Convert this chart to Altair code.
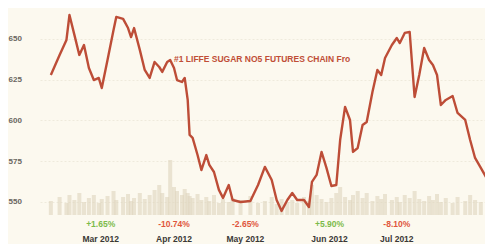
import altair as alt
import pandas as pd

# price series (day offset from start, price)
days = [0, 3.2, 5.7, 6.8, 8.6, 10.4, 12.1, 13.9, 15.7, 17.5, 18.6, 20.7, 22.9, 23.9, 26.4, 28.2, 29.3, 30.4,
        32.5, 34.3, 36.1, 37.9, 39.6, 40.7, 42.5, 43.6, 45, 46.1, 47.9, 48.9, 50, 50.7, 51.8, 53.6, 55, 56.8,
        57.9, 59.6, 61.4, 62.9, 65, 66.4, 69.3, 72.9, 75.7, 78.2, 80.7, 82.5, 84.3, 86.4, 88.2, 90, 92.5,
        94.3, 95.4, 97.1, 98.9, 100.7, 102.5, 104.3, 105.7, 107.5, 109.3, 110.4, 112.1, 113.9, 115.4, 117.5,
        119.3, 120.7, 122.1, 124.6, 126.4, 127.5, 129.3, 131.1, 132.9, 134.6, 136.4, 138.2, 139.6, 141.1,
        142.5, 144.3, 146.8, 148.6, 151.4, 153.2, 155, 157.1, 159.6]
prices = [627.9, 640.2, 649.4, 664.7, 652.5, 640.2, 646.3, 632.2, 624.8, 626.1, 619.9, 637.1, 655.5, 663.5,
          662.3, 656.7, 651.2, 656.7, 643.3, 631.0, 626.1, 635.9, 632.8, 629.8, 635.9, 637.1, 632.2, 624.8,
          623.6, 626.1, 612.6, 591.1, 589.3, 578.8, 569.6, 578.8, 572.7, 568.4, 557.4, 552.5, 560.4, 551.2,
          550.0, 550.6, 560.4, 571.5, 563.5, 551.2, 544.5, 551.2, 555.5, 551.2, 551.2, 546.9, 562.3, 566.6,
          580.7, 570.9, 559.8, 560.4, 588.0, 608.3, 600.3, 580.7, 583.1, 597.2, 599.1, 617.5, 631.0, 627.9,
          638.3, 646.3, 650.6, 647.5, 653.7, 654.3, 614.4, 627.9, 644.5, 637.1, 634.0, 627.9, 609.5, 612.6,
          615.0, 604.6, 600.3, 588.0, 577.0, 570.9, 563.5]
volumes = [14, 18, 12, 20, 15, 22, 13, 17, 20, 12,
           16, 19, 24, 15, 18, 21, 14, 17, 22, 16,
           20, 25, 30, 22, 18, 55, 28, 24, 20, 26,
           22, 19, 17, 21, 15, 18, 14, 20, 12, 16,
           13, 17, 15, 19, 12, 14, 18, 11, 16, 13,
           15, 12, 18, 14, 30, 20, 16, 13, 17, 22,
           28, 18, 15, 20, 24, 17, 22, 14, 19, 16,
           21, 15, 18, 13, 20, 17, 24, 16, 14, 19,
           15, 21, 13, 17, 12, 18, 14, 20, 15, 13, 16]

months = ["Mar 2012", "Apr 2012", "May 2012", "Jun 2012", "Jul 2012"]
month_days = [18.2, 45, 71.1, 101.8, 126.4]
changes = ["+1.65%", "-10.74%", "-2.65%", "+5.90%", "-8.10%"]
change_colors = ["#7dbb4a", "#e0563c", "#e0563c", "#7dbb4a", "#e0563c"]
yticks = [550, 575, 600, 625, 650]
series_name = "#1 LIFFE SUGAR NO5 FUTURES CHAIN Fro"

price_df = pd.DataFrame({"day": days, "price": prices})
vol_df = pd.DataFrame({"day": days, "volume": volumes})
lab_df = pd.DataFrame({"day": month_days, "month": months, "chg": changes, "col": change_colors})
name_df = pd.DataFrame({"day": [45], "price": [637.5], "name": [series_name]})

xscale = alt.Scale(domain=[-2.14, 156.8], nice=False, zero=False)
yscale = alt.Scale(domain=[542, 669], nice=False, zero=False)

xaxis = alt.Axis(labels=False, ticks=False, domain=False, title=None, grid=True,
                 values=[0, 22, 44, 66, 88, 110, 132, 154], gridColor="#f1ede0", gridWidth=1)

vol = alt.Chart(vol_df).mark_bar(color="#ddd3bd", opacity=0.6, width=4, clip=True).encode(
    x=alt.X("day:Q", scale=xscale, axis=xaxis),
    y=alt.Y("volume:Q", scale=alt.Scale(domain=[0, 207]), axis=None),
)

line = alt.Chart(price_df).mark_line(color="#bd4d37", strokeWidth=2.4, clip=True,
                                     strokeJoin="round").encode(
    x=alt.X("day:Q", scale=xscale, axis=None),
    y=alt.Y("price:Q", scale=yscale,
            axis=alt.Axis(values=yticks, labelAlign="left", labelPadding=32, ticks=False, domain=False,
                          title=None, grid=True, gridColor="#efeadc", gridDash=[2, 2],
                          labelFont="Liberation Sans", labelFontSize=8, labelFontWeight="bold",
                          labelColor="#6a6660", labelBaseline="middle")),
)

name = alt.Chart(name_df).mark_text(align="left", baseline="middle", font="Liberation Sans",
                                    fontSize=8.5, fontWeight="bold", color="#c04e37").encode(
    x=alt.X("day:Q", scale=xscale, axis=None),
    y=alt.Y("price:Q", scale=yscale, axis=None),
    text="name:N",
)

chg = alt.Chart(lab_df).mark_text(align="center", baseline="middle", font="Liberation Sans",
                                  fontSize=8.5, fontWeight="bold").encode(
    x=alt.X("day:Q", scale=xscale, axis=None),
    y=alt.value(216),
    text="chg:N",
    color=alt.Color("col:N", scale=None),
)

mon = alt.Chart(lab_df).mark_text(align="center", baseline="middle", font="Liberation Sans",
                                  fontSize=8.5, fontWeight="bold", color="#3a3836").encode(
    x=alt.X("day:Q", scale=xscale, axis=None),
    y=alt.value(231),
    text="month:N",
)

chart = alt.layer(vol, line, name, chg, mon).resolve_scale(y="independent").properties(
    width=445, height=207,
    autosize=alt.AutoSizeParams(type="none"),
    padding={"left": 32, "top": 0, "right": 0, "bottom": 29},
    background="#fcf9ef",
).configure_view(stroke=None, fill="#fcf9ef")

chart.save("out.html", embed_options={"renderer": "svg", "actions": False})
